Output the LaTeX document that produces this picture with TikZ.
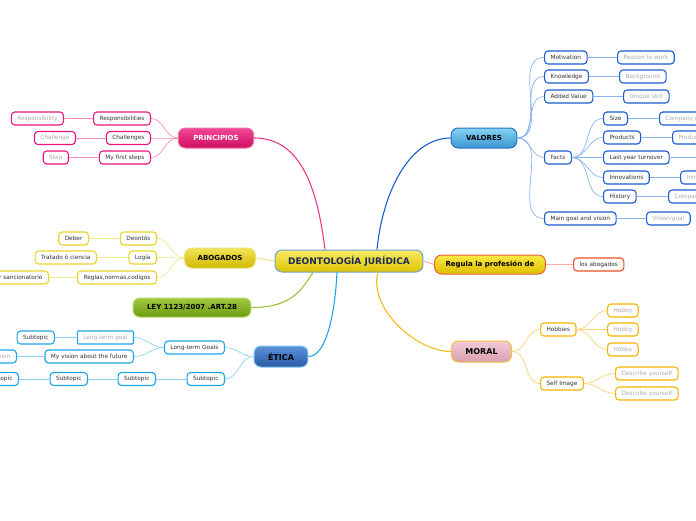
\documentclass[tikz,border=0pt]{standalone}
\usepackage{fontspec}
\setmainfont{DejaVu Sans}
\usetikzlibrary{positioning}

\definecolor{txtdark}{HTML}{333333}
\definecolor{txtgrey}{HTML}{ABABAB}
\definecolor{pinkb}{HTML}{E8157A}
\definecolor{pinkl}{HTML}{F592B8}
\definecolor{yellb}{HTML}{E8D428}
\definecolor{yelll}{HTML}{F2E68E}
\definecolor{blueb}{HTML}{1A5CD0}
\definecolor{bluel}{HTML}{8AB4F0}
\definecolor{cyanb}{HTML}{1EA5E8}
\definecolor{cyanl}{HTML}{8CD4F4}
\definecolor{orangeb}{HTML}{F5B400}
\definecolor{orangel}{HTML}{FAD273}
\definecolor{redb}{HTML}{E8502A}
\definecolor{redl}{HTML}{F7B0A0}
\definecolor{greenl}{HTML}{98C43A}
% rellenos de los temas
\definecolor{deonD}{HTML}{6AA2D2}\definecolor{deonT}{HTML}{F8EA66}\definecolor{deonB}{HTML}{DEC400}
\definecolor{deonX}{HTML}{1A2A5A}
\definecolor{prinD}{HTML}{F070A8}\definecolor{prinT}{HTML}{F2479A}\definecolor{prinB}{HTML}{CE0F5E}
\definecolor{abogD}{HTML}{ECE27A}\definecolor{abogT}{HTML}{F2E458}\definecolor{abogB}{HTML}{D2BA00}
\definecolor{leyD}{HTML}{B2D662}\definecolor{leyT}{HTML}{A2CA40}\definecolor{leyB}{HTML}{6A9A10}
\definecolor{etiD}{HTML}{7EC4F2}\definecolor{etiT}{HTML}{5C92DA}\definecolor{etiB}{HTML}{2A58A6}
\definecolor{valD}{HTML}{2A72C4}\definecolor{valT}{HTML}{86D2F2}\definecolor{valB}{HTML}{3A96D0}
\definecolor{regD}{HTML}{E8603E}\definecolor{regT}{HTML}{F8EA44}\definecolor{regB}{HTML}{DEBE00}
\definecolor{morD}{HTML}{F5C040}\definecolor{morT}{HTML}{F2CCD8}\definecolor{morB}{HTML}{D89EAE}

\begin{document}
\begin{tikzpicture}[
    x=1pt, y=-1pt,
    topic node/.style={rounded corners=7pt, minimum height=20pt, inner xsep=12pt, inner ysep=0pt,
        line width=1pt, font=\fontsize{7}{8}\selectfont\bfseries},
    sub node/.style={draw, rounded corners=3.5pt, fill=white, minimum height=13pt, inner xsep=6pt,
        inner ysep=0pt, line width=1.1pt, font=\fontsize{5.8}{6.5}\selectfont, text=txtdark},
    leaf node/.style={sub node, text=txtgrey},
    main link/.style={line width=1.1pt},
    sub link/.style={line width=0.7pt}
]
\useasboundingbox (0,0) rectangle (696,520);
\clip (0,0) rectangle (696,520);

% Centro
\node[topic node, draw=deonD, top color=deonT, bottom color=deonB,
    minimum height=22pt, inner xsep=13pt, text=deonX, font=\fontsize{9}{10}\selectfont\bfseries]
    (deon) at (349,261) {DEONTOLOGÍA JURÍDICA};

% Temas
\node[topic node, draw=prinD, top color=prinT, bottom color=prinB, text=white, inner xsep=15pt]
    (principios) at (216,138) {PRINCIPIOS};
\node[topic node, draw=abogD, top color=abogT, bottom color=abogB, inner xsep=13pt]
    (abogados) at (220,258) {ABOGADOS};
\node[topic node, draw=leyD, top color=leyT, bottom color=leyB, minimum height=19pt, inner xsep=14pt]
    (ley) at (192,307.5) {LEY 1123/2007 .ART.28};
\node[topic node, draw=etiD, top color=etiT, bottom color=etiB, minimum height=21pt,
    inner xsep=14pt, font=\fontsize{8}{9}\selectfont\bfseries]
    (etica) at (281,356.5) {ÉTICA};
\node[topic node, draw=valD, top color=valT, bottom color=valB, inner xsep=15pt]
    (valores) at (484,138) {VALORES};
\node[topic node, draw=regD, top color=regT, bottom color=regB, minimum height=19pt, inner xsep=11pt]
    (regula) at (490,264.5) {Regula la profesión de};
\node[topic node, draw=morD, top color=morT, bottom color=morB, minimum height=21pt,
    inner xsep=14pt, font=\fontsize{8}{9}\selectfont\bfseries]
    (moral) at (481.5,351.5) {MORAL};

% Principios
\node[sub node, draw=pinkb, anchor=east] (resps) at (151,118.5) {Responsibilities};
\node[leaf node, draw=pinkb, anchor=east] (resp) at (64,118.5) {Responsibility};
\node[sub node, draw=pinkb, anchor=east] (chals) at (151,138) {Challenges};
\node[leaf node, draw=pinkb, anchor=east] (chal) at (76,138) {Challenge};
\node[sub node, draw=pinkb, anchor=east] (steps) at (151,157.5) {My first steps};
\node[leaf node, draw=pinkb, anchor=east] (step1) at (69,157.5) {Step};

% Abogados
\node[sub node, draw=yellb, anchor=east] (deontos) at (157,238.5) {Deontós};
\node[sub node, draw=yellb, anchor=east] (deber) at (89,238.5) {Deber};
\node[sub node, draw=yellb, anchor=east] (logia) at (157,257.5) {Logía};
\node[sub node, draw=yellb, anchor=east] (tratado) at (97,257.5) {Tratado ó ciencia};
\node[sub node, draw=yellb, anchor=east] (reglas) at (157,277.5) {Reglas,normas,codigos};
\node[sub node, draw=yellb, anchor=east] (poder) at (49,277.5) {Poder sancionatorio};

% Etica
\node[sub node, draw=cyanb, anchor=east] (goals) at (225,347.5) {Long-term Goals};
\node[leaf node, draw=cyanb, rounded corners=1pt, anchor=east] (goal) at (134,337.5) {Long-term goal};
\node[sub node, draw=cyanb, anchor=east] (subg) at (55,337.5) {Subtopic};
\node[sub node, draw=cyanb, anchor=east] (vision) at (134,356.5) {My vision about the future};
\node[leaf node, draw=cyanb, anchor=east] (visionl) at (17,356.5) {Vision};
\node[sub node, draw=cyanb, anchor=east] (suba) at (225,379) {Subtopic};
\node[sub node, draw=cyanb, anchor=east] (subb) at (156,379) {Subtopic};
\node[sub node, draw=cyanb, anchor=east] (subc) at (88,379) {Subtopic};
\node[sub node, draw=cyanb, anchor=east] (subd) at (19,379) {Subtopic};

% Valores
\node[sub node, draw=blueb, anchor=west] (motiv) at (544,57.5) {Motivation};
\node[leaf node, draw=blueb, anchor=west] (reason) at (617,57.5) {Reason to work};
\node[sub node, draw=blueb, anchor=west] (know) at (544,76.5) {Knowledge};
\node[leaf node, draw=blueb, anchor=west] (backg) at (619,76.5) {Background};
\node[sub node, draw=blueb, anchor=west] (added) at (544,96.5) {Added Value};
\node[leaf node, draw=blueb, anchor=west] (unique) at (623,96.5) {Unique skill};
\node[sub node, draw=blueb, anchor=west] (facts) at (544,157.5) {Facts};
\node[sub node, draw=blueb, anchor=west] (size) at (603,118.5) {Size};
\node[leaf node, draw=blueb, anchor=west] (csize) at (659,118.5) {Company size};
\node[sub node, draw=blueb, anchor=west] (prods) at (603,137.5) {Products};
\node[leaf node, draw=blueb, anchor=west] (prod) at (672,137.5) {Product};
\node[sub node, draw=blueb, anchor=west] (turn) at (603,157.5) {Last year turnover};
\coordinate (turnend) at (700,157.5);
\node[sub node, draw=blueb, anchor=west] (innovs) at (603,177.5) {Innovations};
\node[leaf node, draw=blueb, anchor=west] (innov) at (680,177.5) {Innovation};
\node[sub node, draw=blueb, anchor=west] (hist) at (603,196.5) {History};
\node[leaf node, draw=blueb, anchor=west] (chist) at (668,196.5) {Company history};
\node[sub node, draw=blueb, anchor=west] (mgoal) at (544,218.5) {Main goal and vision};
\node[leaf node, draw=blueb, anchor=west] (vgoal) at (646,218.5) {Vision/goal};

% Regula
\node[sub node, draw=redb, anchor=west] (losab) at (573,264.5) {los abogados};

% Moral
\node[sub node, draw=orangeb, anchor=west] (hobbies) at (540,329.5) {Hobbies};
\node[leaf node, draw=orangeb, anchor=west] (hob1) at (607,310.5) {Hobby};
\node[leaf node, draw=orangeb, anchor=west] (hob2) at (607,329.5) {Hobby};
\node[leaf node, draw=orangeb, anchor=west] (hob3) at (607,349.5) {Hobby};
\node[sub node, draw=orangeb, anchor=west] (self) at (540,383.5) {Self Image};
\node[leaf node, draw=orangeb, anchor=west] (desc1) at (615,373.5) {Describe yourself};
\node[leaf node, draw=orangeb, anchor=west] (desc2) at (615,393.5) {Describe yourself};

% Conexiones centrales
\draw[main link, draw=pinkb!85] (principios.east) .. controls +(45,0) and +(-8,-65) .. ([xshift=-24pt]deon.north);
\draw[main link, draw=blueb] (valores.west) .. controls +(-40,0) and +(6,-60) .. ([xshift=28pt]deon.north);
\draw[main link, draw=yelll] (abogados.east) -- (deon.west);
\draw[main link, draw=greenl] (ley.east) .. controls +(40,0) and +(-12,18) .. ([xshift=-36pt]deon.south);
\draw[main link, draw=cyanb] (etica.east) .. controls +(18,0) and +(-2,40) .. ([xshift=-12pt]deon.south);
\draw[main link, draw=orangeb!90] (moral.west) .. controls +(-35,0) and +(-10,35) .. ([xshift=29pt]deon.south);
\draw[main link, draw=redl] (deon.east) -- (regula.west);

% Conexiones secundarias
\foreach \a/\b in {principios/resps, principios/chals, principios/steps}
    \draw[sub link, draw=pinkl] (\a.west) to[out=180,in=0] (\b.east);
\foreach \a/\b in {resps/resp, chals/chal, steps/step1}
    \draw[sub link, draw=pinkl] (\a.west) -- (\b.east);

\foreach \a/\b in {abogados/deontos, abogados/logia, abogados/reglas}
    \draw[sub link, draw=yelll] (\a.west) to[out=180,in=0] (\b.east);
\foreach \a/\b in {deontos/deber, logia/tratado, reglas/poder}
    \draw[sub link, draw=yelll] (\a.west) -- (\b.east);

\foreach \a/\b in {etica/goals, etica/suba, goals/goal, goals/vision}
    \draw[sub link, draw=cyanl] (\a.west) to[out=180,in=0] (\b.east);
\foreach \a/\b in {goal/subg, vision/visionl, suba/subb, subb/subc, subc/subd}
    \draw[sub link, draw=cyanl] (\a.west) -- (\b.east);

\foreach \a/\b in {valores/motiv, valores/know, valores/added, valores/facts, valores/mgoal,
                   facts/size, facts/prods, facts/turn, facts/innovs, facts/hist}
    \draw[sub link, draw=bluel] (\a.east) to[out=0,in=180] (\b.west);
\foreach \a/\b in {motiv/reason, know/backg, added/unique, size/csize, prods/prod,
                   innovs/innov, hist/chist, mgoal/vgoal}
    \draw[sub link, draw=bluel] (\a.east) -- (\b.west);
\draw[sub link, draw=bluel] (turn.east) -- (turnend);

\draw[sub link, draw=redl] (regula.east) -- (losab.west);

\foreach \a/\b in {moral/hobbies, moral/self, hobbies/hob1, hobbies/hob2, hobbies/hob3,
                   self/desc1, self/desc2}
    \draw[sub link, draw=orangel] (\a.east) to[out=0,in=180] (\b.west);

\end{tikzpicture}
\end{document}
